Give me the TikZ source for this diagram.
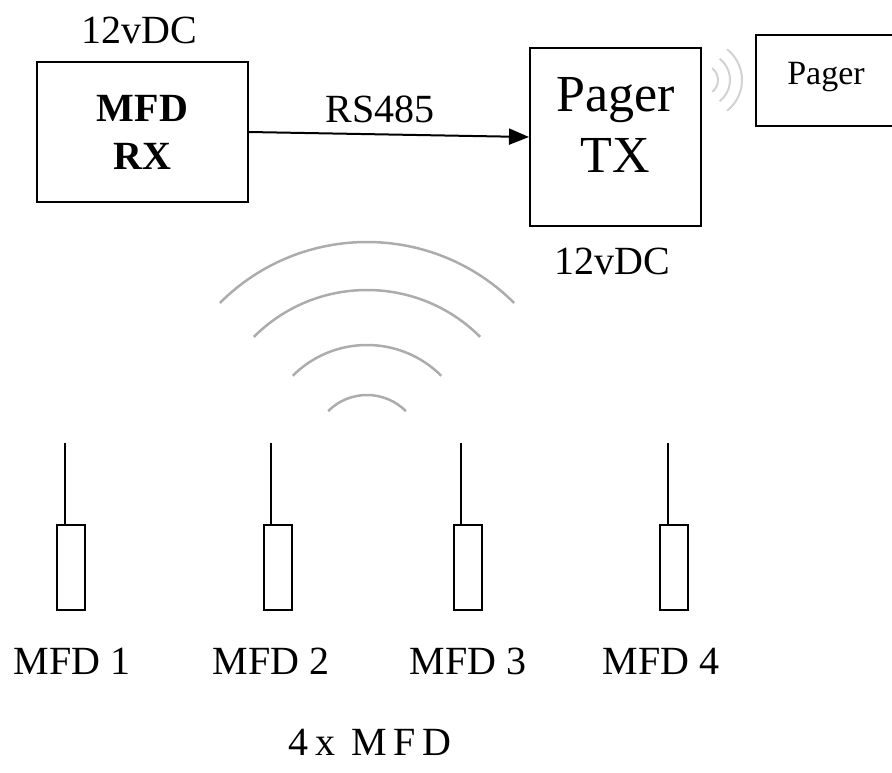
\documentclass[tikz,border=0pt]{standalone}
\usepackage{fontspec}
\setmainfont{Liberation Serif}
\usetikzlibrary{arrows.meta}

\tikzset{
  unit/.style={draw=black, line width=2pt, inner sep=0pt},
  wave/.style={draw=gray!65, line width=2.5pt},
  faint/.style={draw=gray!35, line width=2pt},
  txt/.style={font=\fontsize{40}{48}\selectfont},
}

\begin{document}
\begin{tikzpicture}[x=1pt, y=-1pt, line width=2pt]
   \path[use as bounding box, clip] (0,0) rectangle (892,772);

   \node[unit, minimum width=211pt, minimum height=140pt, align=center, txt, font=\fontsize{40}{48}\selectfont\bfseries] (rx) at (142.5,132) {MFD\\RX};
   \node[unit, minimum width=171pt, minimum height=178pt] (tx) at (615.5,137) {};
   \node[unit, minimum width=148pt, minimum height=91pt] (pg) at (830,80.5) {};

   \node[align=center, font=\fontsize{52}{61}\selectfont] (txname) at ([yshift=12pt]tx.center) {Pager\\TX};
   \node[font=\fontsize{34}{36}\selectfont] (pgname) at (826,77) {Pager};
   \node[txt] (pwrrx) at (139,30) {12vDC};
   \node[txt] (pwrtx) at (612,261) {12vDC};
   \node[txt] (bus) at (380,109) {RS485};

   \draw[-{Triangle[length=20pt,width=16pt]}] (rx.east) -- (tx.west);

   \coordinate (src) at (367,450);
   \foreach \r in {55,105,160,208}
      \draw[wave] ([shift={(-135:\r)}]src) arc[start angle=-135, end angle=-45, radius=\r];

   \coordinate (beep) at (703,80);
   \foreach \r in {15,27,39}
      \draw[faint] ([shift={(-52:\r)}]beep) arc[start angle=-52, end angle=52, radius=\r];

   \foreach \i/\x/\lx in {1/71/72, 2/277.5/271, 3/467.5/468, 4/674/661} {
      \node[unit, minimum width=28pt, minimum height=85pt] (dev\i) at (\x,567.5) {};
      \coordinate (ant\i) at (\x-6.5,443);
      \draw (ant\i) -- (ant\i |- dev\i.north);
      \node[txt] (lbl\i) at (\lx,661) {MFD \i};
   }

   \node[font=\fontsize{40}{44}\selectfont\addfontfeature{LetterSpace=16}] (count) at (370,742) {4x MFD};
\end{tikzpicture}
\end{document}
